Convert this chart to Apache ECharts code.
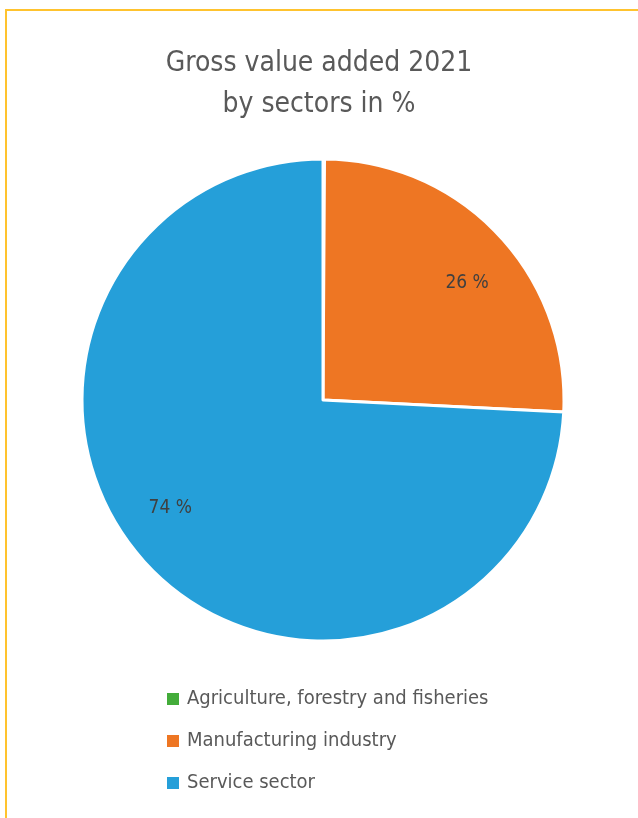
<!DOCTYPE html>
<html><head><meta charset="utf-8">
<script src="https://cdn.jsdelivr.net/npm/echarts@6/dist/echarts.min.js"></script>
<style>
html,body{margin:0;padding:0;background:#fff;}
#frame{position:absolute;left:5px;top:9px;width:640px;height:820px;border-top:2px solid #FFC32E;border-left:2px solid #FFC32E;box-sizing:border-box;}
#chart{position:absolute;left:0;top:0;width:638px;height:818px;}
</style></head>
<body>
<div id="frame"></div>
<div id="chart"></div>
<script>
const titleLines = ['Gross value added 2021', 'by sectors in %'];
const categories = ['Agriculture, forestry and fisheries', 'Manufacturing industry', 'Service sector'];
const values = [0.1, 25.7, 74.2];
const colors = ['#43AC3A', '#EE7623', '#259FD9'];
const labelOffsets = [[0, 0], [6, 14], [-15, -23]];

const font = '"Liberation Sans Narrow", "DejaVu Sans Condensed", sans-serif';
const chart = echarts.init(document.getElementById('chart'));
const data = categories.map((c, i) => ({name: c, value: values[i], itemStyle: {color: colors[i]}}));
chart.setOption({
  animation: false,
  title: {
    text: titleLines.join('\n'), left: 'center', top: 38,
    textStyle: {fontFamily: font, fontSize: 28, fontWeight: 'normal', color: '#595959', lineHeight: 41}
  },
  legend: {
    orient: 'vertical', left: 160, top: 684, itemGap: 22,
    itemWidth: 14, itemHeight: 14, icon: 'rect',
    textStyle: {fontFamily: font, fontSize: 20, color: '#595959', padding: [0,0,0,2]},
    data: categories
  },
  series: [{
    type: 'pie', center: [323, 400], radius: [0, 241], startAngle: 90, clockwise: true,
    itemStyle: {borderColor: '#fff', borderWidth: 3},
    label: {show: false}, labelLine: {show: false},
    data: data
  }, {
    type: 'pie', center: [323, 400], radius: [0, 374], startAngle: 90, clockwise: true,
    silent: true, legendHoverLink: false,
    itemStyle: {color: 'rgba(0,0,0,0)', borderWidth: 0},
    label: {show: true, position: 'inside', fontFamily: font, fontSize: 19, color: '#404040',
      formatter: p => p.value >= 1 ? Math.round(p.value) + ' %' : ''},
    labelLine: {show: false},
    data: categories.map((c, i) => ({name: c + ' ', value: values[i], label: {offset: labelOffsets[i]}}))
  }]
});
</script>
</body></html>
